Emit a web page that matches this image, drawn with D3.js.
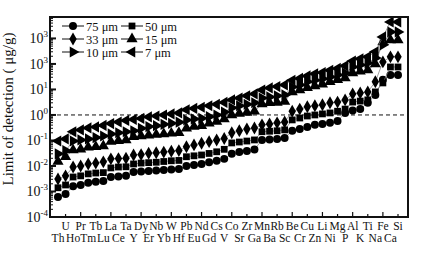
<!DOCTYPE html>
<html>
<head>
<meta charset="utf-8">
<script src="https://cdn.jsdelivr.net/npm/d3@7"></script>
<style>
  body { margin: 0; background: #fff; }
  svg text { font-family: "Liberation Serif", "Times New Roman", serif; fill: #111; }
</style>
</head>
<body>
<div id="chart"></div>
<script>
// elements, in plotting order (even index -> lower label row, odd -> upper row)
const elements = ['Th','U','Ho','Pr','Tm','Tb','Lu','La','Ce','Ta','Y','Dy','Er','Nb','Yb','W',
  'Hf','Pb','Eu','Nd','Gd','Cs','V','Co','Sr','Zr','Ga','Mn','Ba','Rb','Sc','Be','Cr','Cu',
  'Zn','Li','Ni','Mg','P','Al','K','Ti','Na','Fe','Ca','Si'];

// limit of detection, ug/g
const lod75 = [6.1e-4,8.0e-4,1.6e-3,1.8e-3,2.2e-3,2.4e-3,2.6e-3,3.7e-3,3.9e-3,4.1e-3,5.8e-3,6.1e-3,
  6.4e-3,6.7e-3,7.0e-3,7.3e-3,7.6e-3,1.0e-2,1.1e-2,1.2e-2,1.4e-2,1.6e-2,1.9e-2,3.0e-2,3.5e-2,3.9e-2,
  4.4e-2,0.105,0.11,0.115,0.125,0.24,0.28,0.34,0.41,0.44,0.49,0.58,1.2,1.5,1.7,3.0,6.1,24,37,37];
const lod50 = [1.4e-3,1.8e-3,3.7e-3,4.1e-3,4.9e-3,5.3e-3,5.5e-3,8.4e-3,9.1e-3,9.3e-3,1.2e-2,1.3e-2,
  1.35e-2,1.4e-2,1.5e-2,1.6e-2,1.65e-2,2.3e-2,2.5e-2,2.7e-2,3.1e-2,3.6e-2,4.5e-2,8.0e-2,8.7e-2,9.5e-2,
  0.105,0.22,0.23,0.24,0.26,0.64,0.76,0.91,1.0,1.1,1.2,1.4,1.7,3.2,3.5,3.9,8.0,18,76,76];
const lod33 = [3.1e-3,4.1e-3,9.1e-3,1.0e-2,1.2e-2,1.3e-2,1.45e-2,1.9e-2,1.95e-2,2.0e-2,2.7e-2,2.8e-2,
  3.15e-2,3.3e-2,3.5e-2,3.8e-2,4.0e-2,5.7e-2,6.7e-2,7.8e-2,9.0e-2,0.105,0.12,0.20,0.24,0.28,
  0.31,0.41,0.44,0.49,0.53,1.4,1.7,2.1,2.3,2.5,3.0,3.2,3.9,6.7,7.3,8.0,20,120,190,190];
const lod15 = [1.5e-2,2.3e-2,4.2e-2,4.5e-2,5.4e-2,5.7e-2,6.1e-2,9.0e-2,9.8e-2,0.105,0.14,0.15,
  0.16,0.17,0.18,0.19,0.20,0.30,0.35,0.38,0.47,0.55,0.70,1.0,1.15,1.25,
  1.4,2.7,3.0,3.1,3.4,8.0,9.5,11.5,13.7,16,20,24,28,44,51,58,100,730,870,870];
const lod10 = [3.0e-2,4.0e-2,9.5e-2,0.105,0.115,0.13,0.15,0.18,0.20,0.22,0.24,0.30,
  0.35,0.38,0.43,0.47,0.52,0.64,0.70,0.74,0.86,1.0,1.3,1.9,2.3,2.6,
  3.0,4.6,5.1,5.6,6.1,12.5,15,20,23,26,31,37,44,76,91,110,170,560,1800,1800];
const lod7 = [9.5e-2,0.115,0.22,0.26,0.31,0.34,0.39,0.46,0.53,0.61,0.67,0.73,
  0.84,0.91,1.0,1.1,1.2,1.6,1.8,2.0,2.3,2.6,3.1,3.9,4.6,5.6,
  6.7,9.5,11.5,13,15,23,27,34,41,46,56,67,84,130,160,190,300,1150,4400,4400];

const seriesNames = ['75 \u03bcm','50 \u03bcm','33 \u03bcm','15 \u03bcm','10 \u03bcm','7 \u03bcm'];
const seriesData = [lod75, lod50, lod33, lod15, lod10, lod7];
const seriesShape = ['circle','square','diamond','up','right','left'];

const yTickValues = [1e-4,1e-3,1e-2,1e-1,1e0,1e1,1e2,1e3];
const yTickExp = ['-4','-3','-2','-1','0','1','3','3'];   // as printed in the figure

const W = 424, H = 255;
const margin = { top: 17, right: 16, bottom: 38, left: 50 };
const w = W - margin.left - margin.right;
const h = H - margin.top - margin.bottom;

const svg = d3.select('#chart').append('svg')
  .attr('width', W).attr('height', H)
  .append('g')
  .attr('transform', `translate(${margin.left},${margin.top})`);

const x = d3.scalePoint().domain(elements).range([8, w - 10]);
const y = d3.scaleLog().domain([1e-4, Math.pow(10, 3.84)]).range([h, 0]);

// minor + major y ticks, pointing inward
const minor = [];
for (let e = -4; e < 4; e++) {
  for (let m = 2; m <= 9; m++) {
    const v = m * Math.pow(10, e);
    if (v < y.domain()[1]) minor.push(v);
  }
}
svg.append('g').selectAll('line.minor').data(minor).enter().append('line')
  .attr('x1', 0).attr('x2', 3)
  .attr('y1', d => y(d)).attr('y2', d => y(d))
  .attr('stroke', '#111').attr('stroke-width', 1);
svg.append('g').selectAll('line.major').data(yTickValues).enter().append('line')
  .attr('x1', 0).attr('x2', 6)
  .attr('y1', d => y(d)).attr('y2', d => y(d))
  .attr('stroke', '#111').attr('stroke-width', 2);

const yl = svg.append('g').selectAll('text.ytick').data(yTickValues).enter().append('text')
  .attr('x', -2).attr('y', d => y(d) + 5)
  .attr('text-anchor', 'end')
  .style('font-size', '14px');
yl.append('tspan').text('10');
yl.append('tspan').attr('dy', -6).style('font-size', '9px').text((d, i) => yTickExp[i]);

// x ticks (every second element), alternating length
const xTicks = elements.filter((d, i) => i % 2 === 1);
svg.append('g').selectAll('line.xt').data(xTicks).enter().append('line')
  .attr('x1', d => x(d)).attr('x2', d => x(d))
  .attr('y1', h).attr('y2', (d, i) => h - (i % 2 ? 5 : 3))
  .attr('stroke', '#111').attr('stroke-width', 1.2);

// element labels in two rows
svg.append('g').selectAll('text.el').data(elements).enter().append('text')
  .attr('x', d => x(d))
  .attr('y', (d, i) => i % 2 ? h + 13 : h + 25)
  .attr('text-anchor', 'middle')
  .style('font-size', '11.5px')
  .text(d => d);

// reference line at 1 ug/g
svg.append('line')
  .attr('x1', 0).attr('x2', w)
  .attr('y1', y(1)).attr('y2', y(1))
  .attr('stroke', '#111').attr('stroke-width', 1)
  .attr('stroke-dasharray', '4,3');

function symbolPath(shape) {
  if (shape === 'circle') return d3.symbol(d3.symbolCircle, 50)();
  if (shape === 'square') return d3.symbol(d3.symbolSquare, 46)();
  if (shape === 'diamond') return d3.symbol(d3.symbolDiamond, 48)();
  return d3.symbol(d3.symbolTriangle, 54)();
}
function rot(shape) {
  return shape === 'right' ? 90 : shape === 'left' ? -90 : 0;
}

const line = d3.line().x((d, i) => x(elements[i])).y(d => y(d));

seriesData.forEach((data, s) => {
  const g = svg.append('g');
  g.append('path').datum(data)
    .attr('d', line)
    .attr('fill', 'none')
    .attr('stroke', '#777')
    .attr('stroke-width', 0.7);
  g.selectAll('path.pt').data(data).enter().append('path')
    .attr('d', symbolPath(seriesShape[s]))
    .attr('transform', (d, i) => `translate(${x(elements[i])},${y(d)}) rotate(${rot(seriesShape[s])})`)
    .attr('fill', '#000');
});

// legend
const legend = svg.append('g').attr('transform', 'translate(12,9)');
seriesNames.forEach((name, s) => {
  const col = s % 2, row = Math.floor(s / 2);
  const lg = legend.append('g').attr('transform', `translate(${col * 59},${row * 13})`);
  lg.append('line').attr('x1', 0).attr('x2', 22).attr('y1', 0).attr('y2', 0)
    .attr('stroke', '#111').attr('stroke-width', 1);
  lg.append('path').attr('d', symbolPath(seriesShape[s]))
    .attr('transform', `translate(11,0) rotate(${rot(seriesShape[s])})`)
    .attr('fill', '#000');
  lg.append('text').attr('x', 24).attr('y', 4.5)
    .style('font-size', '12.5px').text(name);
});

// frame
svg.append('rect')
  .attr('x', 0).attr('y', 0).attr('width', w).attr('height', h)
  .attr('fill', 'none').attr('stroke', '#111').attr('stroke-width', 2);

// axis title
svg.append('text')
  .attr('transform', `translate(${-37},${h / 2 - 8}) rotate(-90)`)
  .attr('text-anchor', 'middle')
  .style('font-size', '15px')
  .text('Limit  of  detection ( \u03bcg/g)');
</script>
</body>
</html>
